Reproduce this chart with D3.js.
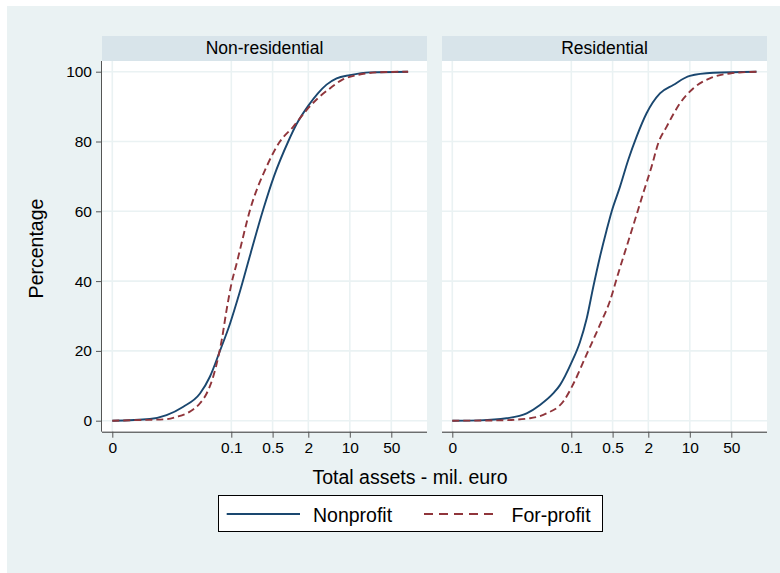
<!DOCTYPE html>
<html>
<head>
<meta charset="utf-8">
<script src="https://cdn.jsdelivr.net/npm/d3@7/dist/d3.min.js"></script>
<style>
  html, body { margin: 0; padding: 0; background: #ffffff; }
  svg { display: block; font-family: "Liberation Sans", Arial, sans-serif; }
</style>
</head>
<body>
<svg id="chart" width="780" height="573"></svg>
<script>
// ---- data ----
const panels = ["Non-residential", "Residential"];
const seriesNames = ["Nonprofit", "For-profit"];
const xTickValues = [0, 0.1, 0.5, 2, 10, 50];
const xTickLabels = ["0", "0.1", "0.5", "2", "10", "50"];
const yTickValues = [0, 20, 40, 60, 80, 100];

// Non-residential
const nonresNonprofitX = [0, 0.0033, 0.0072, 0.0147, 0.029, 0.043, 0.064, 0.095, 0.14, 0.213, 0.347, 0.527, 0.917, 1.27, 1.99, 2.9, 4.06, 6.0, 10, 21.8, 96];
const nonresNonprofitY = [0, 0.5, 1.6, 4, 7.8, 12.6, 20, 27.8, 37, 48, 60.5, 70, 80, 85, 90.2, 93.8, 96.3, 98.1, 99, 99.8, 100];
const nonresForprofitX = [0, 0.0019, 0.0067, 0.0111, 0.0193, 0.029, 0.0378, 0.049, 0.060, 0.0685, 0.083, 0.101, 0.123, 0.136, 0.207, 0.396, 0.665, 1.11, 1.87, 2.94, 4.62, 7.28, 13, 28.2, 96];
const nonresForprofitY = [0, 0.2, 0.4, 1.1, 2.6, 5, 7.8, 12.6, 18.3, 23, 31.7, 39.4, 45, 48, 60.3, 72.8, 80, 84.2, 89.0, 92.5, 95.2, 97.6, 99, 99.8, 100];

// Residential
const resNonprofitX = [0, 0.0019, 0.0072, 0.0169, 0.029, 0.049, 0.064, 0.101, 0.14, 0.182, 0.236, 0.306, 0.396, 0.481, 0.665, 0.917, 1.27, 1.87, 3.14, 5.26, 10, 24.8, 133];
const resNonprofitY = [0, 0.1, 0.7, 2.1, 4.5, 7.8, 10.2, 16.7, 22.5, 29.2, 38.4, 47, 54.6, 59.9, 67, 74.7, 81.4, 88.1, 93.8, 96.2, 98.8, 99.7, 100];
const resForprofitX = [0, 0.0053, 0.0193, 0.0378, 0.0729, 0.108, 0.182, 0.306, 0.451, 0.622, 0.862, 1.19, 1.64, 2.27, 2.94, 4.06, 6.81, 11.4, 21.8, 47.3, 133];
const resForprofitY = [0, 0.1, 0.7, 2.1, 5.5, 10.5, 19, 27.5, 34.3, 42.2, 49.9, 57.5, 65.2, 72.8, 79.5, 84.2, 90.9, 95.2, 98.1, 99.5, 100];

const panelData = [
  [ {x: nonresNonprofitX, y: nonresNonprofitY}, {x: nonresForprofitX, y: nonresForprofitY} ],
  [ {x: resNonprofitX, y: resNonprofitY}, {x: resForprofitX, y: resForprofitY} ]
];

// ---- styles ----
const colors = ["#1a476f", "#90353b"];
const dashes = [null, "7,4"];
const bgColor = "#eaf2f3";
const stripColor = "#d8e4ea";
const gridColor = "#eaf2f3";

// ---- layout ----
const svg = d3.select("#chart");
svg.append("rect").attr("x", 7).attr("y", 6).attr("width", 773).attr("height", 567).attr("fill", bgColor);

const panelLeft = [102, 442];
const panelW = 325;
const plotTop = 61, plotBottom = 431.7;
const stripTop = 36;

const x = d3.scaleSymlog().constant(0.001).domain([0, 50]).range([10.3, 289.3]);
const y = d3.scaleLinear().domain([0, 100]).range([420.7, 71.7]);

panels.forEach((name, i) => {
  const g = svg.append("g").attr("transform", `translate(${panelLeft[i]},0)`);
  // strip
  g.append("rect").attr("x", 0).attr("y", stripTop).attr("width", panelW).attr("height", plotTop - stripTop).attr("fill", stripColor);
  g.append("text").attr("x", panelW / 2).attr("y", 53.5).attr("text-anchor", "middle")
    .attr("font-size", 17.5).attr("fill", "#000").text(name);
  // plot bg
  g.append("rect").attr("x", 0).attr("y", plotTop).attr("width", panelW).attr("height", plotBottom - plotTop).attr("fill", "#fff");
  // grid
  g.selectAll(".vg").data(xTickValues).enter().append("line")
    .attr("x1", d => x(d)).attr("x2", d => x(d)).attr("y1", plotTop).attr("y2", plotBottom)
    .attr("stroke", gridColor).attr("stroke-width", 1.6);
  g.selectAll(".hg").data(yTickValues).enter().append("line")
    .attr("x1", 0).attr("x2", panelW).attr("y1", d => y(d)).attr("y2", d => y(d))
    .attr("stroke", gridColor).attr("stroke-width", 1.6);
  // lines
  const line = d3.line().x(d => x(d[0])).y(d => y(d[1])).curve(d3.curveMonotoneX);
  panelData[i].forEach((s, k) => {
    const pts = s.x.map((v, j) => [v, s.y[j]]);
    g.append("path").datum(pts).attr("d", line).attr("fill", "none")
      .attr("stroke", colors[k]).attr("stroke-width", 1.9)
      .attr("stroke-dasharray", dashes[k]);
  });
  // x axis
  const xAxis = d3.axisBottom(x).tickValues(xTickValues).tickFormat((d, j) => xTickLabels[j]).tickSize(6).tickSizeOuter(0).tickPadding(4);
  const ax = g.append("g").attr("transform", `translate(0,${plotBottom})`).call(xAxis);
  ax.select(".domain").attr("d", `M0,0.5H${panelW}`).attr("stroke", "#333");
  ax.selectAll(".tick line").attr("stroke", "#555");
  ax.selectAll(".tick text").attr("font-size", 15.5).attr("fill", "#000").attr("font-family", "Liberation Sans, Arial, sans-serif");
  // y axis only on first panel
  if (i === 0) {
    const yAxis = d3.axisLeft(y).tickValues(yTickValues).tickSize(6).tickSizeOuter(0).tickPadding(4);
    const ay = g.append("g").call(yAxis);
    ay.select(".domain").attr("d", `M-0.5,${plotTop}V${plotBottom}`).attr("stroke", "#555");
    ay.selectAll(".tick line").attr("stroke", "#555");
    ay.selectAll(".tick text").attr("font-size", 15.5).attr("fill", "#000").attr("font-family", "Liberation Sans, Arial, sans-serif");
  }
});

// axis titles
svg.append("text").attr("x", 410).attr("y", 483.5).attr("text-anchor", "middle")
  .attr("font-size", 19.5).attr("fill", "#000").text("Total assets - mil. euro");
svg.append("text").attr("transform", "translate(42.5,248.5) rotate(-90)").attr("text-anchor", "middle")
  .attr("font-size", 19.5).attr("fill", "#000").text("Percentage");

// legend
const lg = svg.append("g");
lg.append("rect").attr("x", 218.5).attr("y", 495.5).attr("width", 384).attr("height", 36)
  .attr("fill", "#fff").attr("stroke", "#000").attr("stroke-width", 1);
const legendItems = [
  {x1: 226.7, x2: 300, tx: 313},
  {x1: 424, x2: 498, tx: 511.5}
];
seriesNames.forEach((n, k) => {
  const it = legendItems[k];
  lg.append("line").attr("x1", it.x1).attr("x2", it.x2).attr("y1", 514).attr("y2", 514)
    .attr("stroke", colors[k]).attr("stroke-width", 1.9).attr("stroke-dasharray", k === 1 ? "9,6" : null);
  lg.append("text").attr("x", it.tx).attr("y", 521.5).attr("font-size", 19.5).attr("fill", "#000").text(n);
});
</script>
</body>
</html>
